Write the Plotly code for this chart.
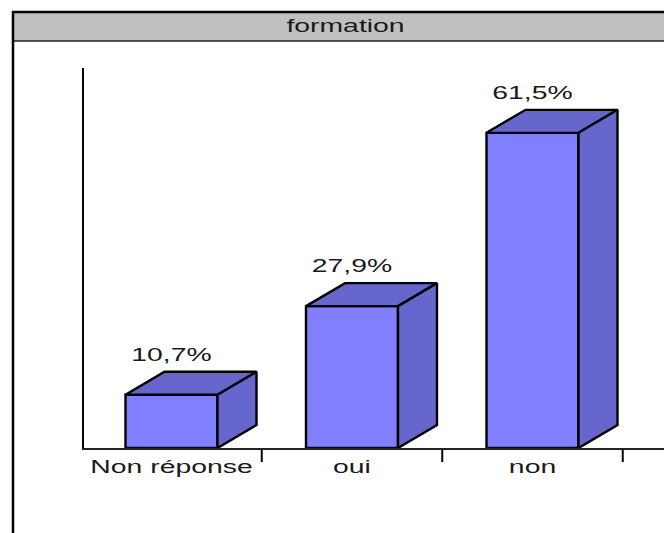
import plotly.graph_objects as go

categories = ["Non réponse", "oui", "non"]
values = [10.7, 27.9, 61.5]
labels = ["10,7%", "27,9%", "61,5%"]
tick_bounds = [0.5, 1.5, 2.5]
title = "formation"

W, H = 664, 533
PX_X = 180.5          # pixels per category
PX_Y = 5.157          # pixels per percentage point
AXIS_LEFT, AXIS_TOP, AXIS_BOTTOM = 84, 68, 448
ZERO_PX = 450
X0 = 171.5
BAR_W = 92 / PX_X
DX = 39 / PX_X
DY = 23 / PX_Y
LW = 2.4
FRONT, SIDE = "#8080FF", "#6666CC"
FONT = dict(family="Liberation Sans, Arial, sans-serif", size=17.5, color="#1a1a1a")

xr = [(AXIS_LEFT - X0) / PX_X, (W - X0) / PX_X]
yr = [(ZERO_PX - AXIS_BOTTOM) / PX_Y, (ZERO_PX - AXIS_TOP) / PX_Y]
BASE = yr[0]
idx = list(range(len(categories)))

fig = go.Figure()
fig.add_trace(go.Bar(
    x=idx, y=[v - BASE for v in values], base=BASE, width=BAR_W,
    marker=dict(color=FRONT, line=dict(color="black", width=LW)),
    hoverinfo="skip", showlegend=False, cliponaxis=False,
))
for i, v in zip(idx, values):
    l, r = i - BAR_W / 2, i + BAR_W / 2
    # top face
    fig.add_trace(go.Scatter(
        x=[l, r, r + DX, l + DX, l], y=[v, v, v + DY, v + DY, v],
        fill="toself", fillcolor=SIDE, mode="lines",
        line=dict(color="black", width=LW), hoverinfo="skip", showlegend=False,
    ))
    # side face
    fig.add_trace(go.Scatter(
        x=[r, r + DX, r + DX, r, r], y=[BASE, BASE + DY, v + DY, v, BASE],
        fill="toself", fillcolor=SIDE, mode="lines",
        line=dict(color="black", width=LW), hoverinfo="skip", showlegend=False,
    ))

# value labels
fig.add_trace(go.Scatter(
    x=idx, y=[v + DY + 15 / PX_Y for v in values], text=labels,
    mode="text", textposition="middle center", textfont=FONT,
    hoverinfo="skip", showlegend=False, cliponaxis=False,
))

# separators below the axis, placed on the category scale
separators = [
    dict(type="line", xref="x", yref="paper", x0=b, x1=b,
         y0=(H - 450) / H, y1=(H - 462) / H, line=dict(color="black", width=2))
    for b in tick_bounds
]

fig.update_layout(
    width=W, height=H, margin=dict(l=0, r=0, t=0, b=0, autoexpand=False),
    paper_bgcolor="white", plot_bgcolor="white", showlegend=False, barmode="overlay",
    xaxis=dict(
        domain=[AXIS_LEFT / W, 1], range=xr, tickmode="array", tickvals=idx,
        ticktext=categories, ticks="", showgrid=False, zeroline=False, showline=True,
        linecolor="#222222", linewidth=2, tickfont=FONT, fixedrange=True, automargin=False,
        ticklabelstandoff=2,
    ),
    yaxis=dict(
        domain=[(H - AXIS_BOTTOM) / H, (H - AXIS_TOP) / H], range=yr,
        showticklabels=False, ticks="", showgrid=False, zeroline=False, showline=True,
        linecolor="black", linewidth=2.4, fixedrange=True, automargin=False,
    ),
    shapes=[
        dict(type="rect", xref="paper", yref="paper", x0=13 / W, x1=1.01,
             y0=(H - 41) / H, y1=(H - 12) / H, fillcolor="#C0C0C0",
             line=dict(color="#222222", width=1.5), layer="below"),
        dict(type="line", xref="paper", yref="paper", x0=13 / W, x1=13 / W,
             y0=-0.01, y1=(H - 11) / H, line=dict(color="black", width=2.5)),
        dict(type="line", xref="paper", yref="paper", x0=12 / W, x1=1,
             y0=(H - 12) / H, y1=(H - 12) / H, line=dict(color="black", width=2.5)),
    ] + separators,
    annotations=[dict(
        text=title, xref="paper", yref="paper", x=345 / W, y=(H - 26) / H,
        showarrow=False, xanchor="center", yanchor="middle", font=FONT,
    )],
)

# Widen the text as in the reference, whose glyphs are stretched horizontally.
post = """
document.body.style.margin = '0';
document.documentElement.style.overflow = 'hidden';
var gd = document.getElementById('{plot_id}');
function stretch() {
  gd.querySelectorAll('svg text').forEach(function (t) {
    if (!t.textContent || t.getAttribute('data-st')) return;
    var w = t.getComputedTextLength();
    t.setAttribute('data-st', '1');
    t.setAttribute('textLength', (w * 1.62).toFixed(1));
    t.setAttribute('lengthAdjust', 'spacingAndGlyphs');
  });
}
stretch();
gd.on('plotly_afterplot', stretch);
"""
fig.write_html("out.html", post_script=post, config=dict(displayModeBar=False, responsive=False))
